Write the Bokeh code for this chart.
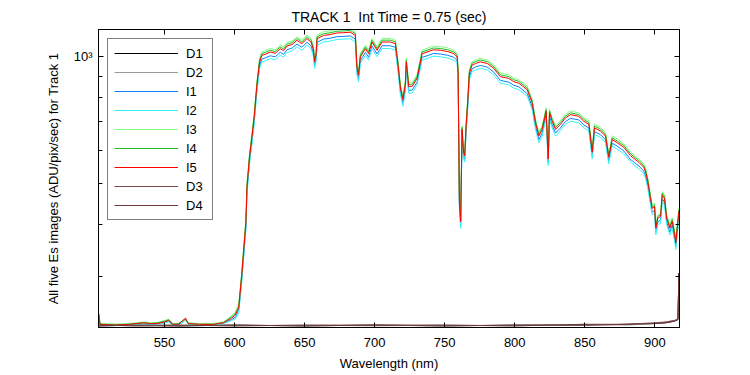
from bokeh.plotting import figure
from bokeh.models import LogAxis, LinearAxis, FixedTicker, Range1d, Legend, LegendItem
from bokeh.embed import file_html
from bokeh.resources import INLINE

# ---------------- data ----------------
wavelength = [503, 504, 515, 525, 535, 540, 545, 550, 553, 556,
              560, 565, 567, 575, 585, 592, 595, 598, 600.5, 603,
              605, 608.1, 608.9, 610.7, 612.4, 614.0, 616.0, 617.9, 619.6, 622,
              625.5, 629, 632.6, 635, 637.4, 641, 644.6, 648, 651.7, 654.6,
              656.3, 657.1, 658.2, 658.9, 663.6, 668, 673.1, 678, 682.6, 686.2,
              687.4, 688.5, 689.8, 693.4, 695.7, 698.1, 701.7, 705.3, 711.2, 714.8,
              716.7, 718.4, 720.2, 721.9, 722.6, 724.3, 726.7, 730.3, 733.9, 737.4,
              742, 746.9, 752, 756.5, 758.9, 759.6, 760.5, 761.4, 762.4, 763.4,
              764.3, 765.3, 766.4, 767.6, 769.6, 772, 775.5, 780.3, 785, 789.8,
              795.7, 799.3, 802.9, 808.9, 812.4, 814.8, 817.2, 819.6, 822.4, 823.9,
              824.8, 826.7, 829.1, 832.6, 836.2, 839.8, 845.7, 849.3, 852.9, 855.3,
              856.9, 861.2, 864.8, 867.1, 869.6, 873.1, 877.9, 882.6, 888.6, 892.1,
              893.4, 895, 896.9, 898.1, 899.8, 900.7, 902.1, 904.1, 905.3, 906.9,
              908.4, 910.7, 912.4, 914.1, 915, 916, 917.2]

I1 = [244, 230, 230, 231, 232, 231, 232, 233, 235, 231,
      230, 237, 231, 230, 231, 232, 235, 237, 240, 249,
      292, 394, 480, 565, 630, 702, 841, 954, 989, 995,
      1006, 1000, 1025, 1014, 1040, 1049, 1073, 1054, 1083, 1063,
      1019, 954, 990, 1083, 1103, 1107, 1117, 1119, 1122, 1103,
      920, 887, 980, 1025, 998, 1063, 1016, 1063, 1063, 1054,
      937, 826, 775, 841, 954, 833, 833, 871, 998, 1006,
      1019, 1016, 1009, 998, 980, 896, 443, 397, 659, 581,
      570, 671, 761, 896, 937, 946, 954, 946, 920, 879,
      871, 856, 849, 818, 761, 683, 635, 659, 727, 560,
      721, 689, 659, 677, 702, 714, 708, 689, 677, 581,
      664, 653, 635, 565, 623, 613, 597, 570, 550, 535,
      521, 494, 451, 427, 431, 383, 405, 409, 460, 451,
      405, 383, 398, 369, 354, 383, 420]

I2 = [244, 231, 230, 230, 232, 231, 231, 233, 234, 230,
      231, 236, 231, 230, 230, 232, 234, 236, 238, 246,
      288, 388, 473, 557, 620, 691, 828, 939, 974, 979,
      991, 984, 1009, 999, 1024, 1033, 1057, 1037, 1066, 1047,
      1004, 939, 975, 1066, 1086, 1090, 1100, 1102, 1105, 1086,
      906, 873, 965, 1009, 982, 1047, 1001, 1047, 1047, 1037,
      923, 813, 763, 828, 939, 820, 820, 858, 982, 991,
      1004, 1001, 994, 982, 965, 882, 436, 391, 648, 572,
      562, 661, 750, 882, 923, 931, 939, 931, 906, 866,
      858, 842, 836, 806, 750, 673, 625, 648, 716, 551,
      710, 678, 648, 667, 691, 703, 697, 678, 667, 572,
      654, 643, 625, 557, 614, 603, 588, 562, 541, 527,
      513, 486, 444, 421, 425, 377, 399, 402, 453, 444,
      399, 377, 392, 364, 348, 377, 414]

I3 = [245, 232, 231, 232, 234, 233, 233, 236, 237, 232,
      232, 237, 233, 232, 232, 234, 238, 242, 247, 258,
      304, 410, 500, 589, 656, 730, 875, 992, 1029, 1035,
      1048, 1040, 1067, 1056, 1082, 1091, 1117, 1097, 1127, 1107,
      1061, 992, 1030, 1127, 1148, 1153, 1163, 1165, 1168, 1148,
      958, 923, 1020, 1067, 1038, 1107, 1058, 1107, 1107, 1097,
      975, 860, 807, 875, 992, 867, 867, 907, 1038, 1048,
      1061, 1058, 1051, 1038, 1020, 932, 461, 413, 685, 605,
      594, 699, 793, 932, 975, 984, 992, 984, 958, 915,
      907, 890, 883, 852, 793, 711, 661, 685, 757, 582,
      751, 717, 685, 705, 730, 744, 736, 717, 705, 605,
      692, 679, 661, 589, 649, 638, 621, 594, 572, 557,
      543, 514, 469, 445, 449, 399, 421, 425, 478, 469,
      421, 399, 414, 385, 368, 399, 438]

I4 = [245, 231, 231, 231, 233, 232, 233, 235, 237, 231,
      232, 238, 232, 231, 231, 233, 237, 241, 245, 255,
      301, 406, 495, 583, 649, 723, 867, 983, 1019, 1025,
      1037, 1030, 1056, 1045, 1072, 1081, 1106, 1086, 1116, 1096,
      1050, 983, 1020, 1116, 1136, 1141, 1151, 1153, 1156, 1136,
      948, 914, 1010, 1056, 1028, 1096, 1047, 1096, 1096, 1086,
      966, 851, 799, 867, 983, 859, 859, 898, 1028, 1037,
      1050, 1047, 1040, 1028, 1010, 923, 457, 409, 679, 599,
      588, 692, 785, 923, 966, 975, 983, 975, 948, 906,
      898, 882, 875, 843, 785, 704, 654, 679, 749, 577,
      743, 710, 679, 698, 723, 736, 729, 710, 698, 599,
      685, 673, 654, 583, 642, 631, 615, 588, 567, 551,
      537, 509, 465, 440, 444, 395, 417, 421, 474, 465,
      417, 395, 410, 381, 365, 395, 433]

I5 = [245, 231, 230, 231, 233, 232, 232, 234, 236, 231,
      231, 239, 232, 231, 231, 233, 236, 239, 243, 253,
      298, 402, 490, 577, 643, 716, 858, 973, 1009, 1015,
      1027, 1020, 1046, 1035, 1061, 1070, 1095, 1075, 1105, 1085,
      1040, 973, 1010, 1105, 1125, 1130, 1140, 1142, 1145, 1125,
      939, 905, 1000, 1046, 1018, 1085, 1037, 1085, 1085, 1075,
      956, 843, 791, 858, 973, 850, 850, 889, 1018, 1027,
      1040, 1037, 1030, 1018, 1000, 914, 452, 405, 672, 593,
      582, 685, 777, 914, 956, 965, 973, 965, 939, 897,
      889, 873, 866, 835, 777, 697, 648, 672, 742, 571,
      736, 703, 672, 691, 716, 729, 722, 703, 691, 593,
      678, 666, 648, 577, 636, 625, 609, 582, 561, 546,
      532, 504, 460, 436, 440, 391, 413, 417, 469, 460,
      413, 391, 406, 377, 361, 391, 429]

dark_wavelength = [503, 530, 560, 600, 650, 700, 750, 800, 850, 880, 900, 908, 914, 916.5, 917.2]
D1 = [229, 230, 229, 230, 229, 230, 229, 230, 230, 231, 232, 233, 235, 237, 306]
D2 = [230, 229, 230, 229, 230, 229, 230, 229, 231, 230, 232, 234, 236, 238, 304]
D3 = [229, 230, 230, 229, 230, 230, 229, 230, 230, 231, 233, 234, 236, 237, 305]
D4 = [230, 229, 229, 230, 229, 230, 230, 229, 231, 231, 232, 233, 235, 238, 306]

x_ticks = [550, 600, 650, 700, 750, 800, 850, 900]
y_major_ticks = [1000]
y_minor_ticks = [300, 400, 500, 600, 700, 800, 900]
y_tick_labels = {1000: "10\u00b3"}

title_text = "TRACK 1\u00a0\u00a0Int Time = 0.75 (sec)"
x_label = "Wavelength (nm)"
y_label = "All five Es images (ADU/pix/sec) for Track 1"

# ---------------- figure ----------------
FONT = "Liberation Sans"

p = figure(width=748, height=373, y_axis_type="log",
           x_range=Range1d(502.9, 917.6), y_range=Range1d(227, 1162),
           output_backend="svg", toolbar_location=None,
           min_border_left=98, min_border_right=69,
           min_border_top=29, min_border_bottom=43)

p.title.text = title_text
p.title.align = "center"
p.title.text_font = FONT
p.title.text_font_style = "normal"
p.title.text_font_size = "14px"
p.title.text_color = "black"
p.title.standoff = 10

p.xgrid.visible = False
p.ygrid.visible = False
p.outline_line_color = "black"
p.background_fill_color = "white"
p.border_fill_color = "white"


def style_axis(ax, labels=True):
    ax.major_tick_in = 5
    ax.major_tick_out = 0
    ax.minor_tick_in = 4
    ax.minor_tick_out = 0
    ax.axis_line_color = "black"
    ax.major_tick_line_color = "black"
    ax.minor_tick_line_color = "black"
    ax.major_label_text_font = FONT
    ax.major_label_text_font_size = "13px"
    ax.major_label_text_color = "black"
    ax.axis_label_text_font = FONT
    ax.axis_label_text_font_size = "13px"
    ax.axis_label_text_font_style = "normal"
    ax.axis_label_text_color = "black"
    if not labels:
        ax.major_label_text_font_size = "0px"
        ax.major_label_text_color = None
        ax.major_label_standoff = 0


xax = p.xaxis[0]
xax.ticker = FixedTicker(ticks=x_ticks)
xax.axis_label = x_label
style_axis(xax)
xax.major_label_standoff = 10
xax.axis_label_standoff = 6

yax = p.yaxis[0]
yax.ticker = FixedTicker(ticks=y_major_ticks, minor_ticks=y_minor_ticks)
yax.major_label_overrides = y_tick_labels
yax.axis_label = y_label
style_axis(yax)
yax.major_label_standoff = 6
yax.axis_label_standoff = 10

top_axis = LinearAxis(ticker=FixedTicker(ticks=x_ticks))
style_axis(top_axis, labels=False)
p.add_layout(top_axis, "above")

right_axis = LogAxis(ticker=FixedTicker(ticks=y_major_ticks, minor_ticks=y_minor_ticks))
style_axis(right_axis, labels=False)
p.add_layout(right_axis, "right")

series = [
    ("D1", dark_wavelength, D1, "#000000"),
    ("D2", dark_wavelength, D2, "#999999"),
    ("I1", wavelength, I1, "#0a80ff"),
    ("I2", wavelength, I2, "#33f5f5"),
    ("I3", wavelength, I3, "#80ff80"),
    ("I4", wavelength, I4, "#1fbf1f"),
    ("I5", wavelength, I5, "#ff0000"),
    ("D3", dark_wavelength, D3, "#7f4c4c"),
    ("D4", dark_wavelength, D4, "#703838"),
]

items = []
for name, xs, ys, color in series:
    r = p.line(xs, ys, line_color=color, line_width=1)
    items.append(LegendItem(label=name, renderers=[r]))

legend = Legend(items=items, location="top_left", margin=9, padding=6,
                spacing=3, glyph_width=64, glyph_height=16, label_height=16,
                label_standoff=8, label_text_font=FONT,
                label_text_font_size="13px", label_text_color="black",
                border_line_color="black", border_line_width=1,
                background_fill_color="white", background_fill_alpha=1.0)
p.add_layout(legend)

open("out.html", "w").write(file_html(p, INLINE))
